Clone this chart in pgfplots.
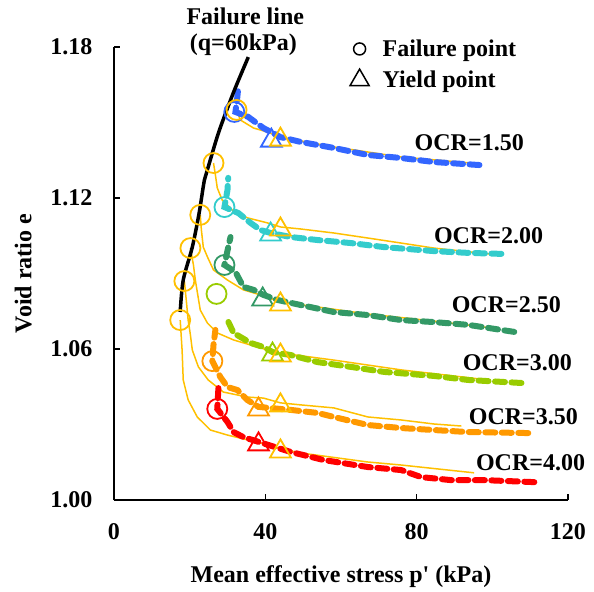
\documentclass[border=0pt]{standalone}
\usepackage{fontspec}
\setmainfont{Liberation Serif}
\usepackage{pgfplots}
\pgfplotsset{compat=1.18}
\definecolor{cB}{RGB}{51,102,255}
\definecolor{cC}{RGB}{51,204,204}
\definecolor{cG}{RGB}{51,153,102}
\definecolor{cL}{RGB}{153,204,0}
\definecolor{cO}{RGB}{255,153,0}
\definecolor{cR}{RGB}{255,0,0}
\definecolor{cY}{RGB}{255,192,0}
\pgfplotsset{myleg/.style={legend image code/.code={\draw[mark repeat=2,mark phase=2,##1] plot coordinates {(0cm,0cm)(0.3cm,0cm)(1.05cm,0cm)}; \path[draw=none,fill=none] (0.3cm,0cm) ++(-9bp,0bp) -- ++(30bp,0bp);}}}
\begin{document}
\begin{tikzpicture}[font=\fontsize{24bp}{28bp}\selectfont\bfseries]
\begin{axis}[
  scale only axis, width=454bp, height=453bp,
  xmin=0, xmax=120, ymin=1.00, ymax=1.18,
  axis lines=left, axis line style={-, line width=1.2bp, black},
  tick align=inside, major tick length=6bp, tick style={line width=1.2bp, black},
  xtick={0,40,80,120}, ytick={1.00,1.06,1.12,1.18},
  yticklabel={\pgfmathprintnumber[fixed,fixed zerofill,precision=2]{\tick}},
  /pgf/number format/assume math mode=true,
  xticklabel style={yshift=-20bp}, yticklabel style={xshift=-18bp},
  xlabel={Mean effective stress p\textquotesingle{} (kPa)},
  ylabel={Void ratio e},
  xlabel style={at={(axis description cs:0.5,-0.17)}, anchor=center},
  ylabel style={at={(axis description cs:-0.2,0.5)}, anchor=center},
  clip=false,
  legend style={at={(axis description cs:0.513,1.025)}, anchor=north west, draw=none, fill=none, row sep=9bp},
  legend cell align=left,
  exp/.style={line width=6bp, dash pattern=on 10bp off 6.5bp, line cap=round, no marks},
  sim/.style={cY, line width=1.5bp, no marks},
  fp/.style={only marks, mark=o, mark size=10bp, mark options={line width=1.8bp}},
  yp/.style={only marks, mark=triangle, mark size=12bp, mark options={line width=1.8bp}},
]
\addlegendimage{only marks, mark=o, mark size=6bp, black, mark options={line width=1.5bp}, myleg}
\addlegendentry{Failure point}
\addlegendimage{only marks, mark=triangle, mark size=11bp, black, mark options={line width=1.5bp}, myleg}
\addlegendentry{Yield point}

% simulation lines (yellow)
\addplot[sim] coordinates {(32.4,1.1550)(33.4,1.151)(36.9,1.1478)(40.6,1.1462)(44.0,1.1442)(58.1,1.1403)(75.9,1.1363)(94.4,1.1339)};
\addplot[sim] coordinates {(26.3,1.1339)(26.8,1.1292)(27.3,1.124)(28.6,1.1192)(31.3,1.1152)(35.3,1.1121)(40.6,1.1101)(44.0,1.1085)(49.3,1.1077)(58.1,1.1061)(67.1,1.1041)(75.9,1.1021)(84.6,1.1001)(101.6,1.0974)};
\addplot[sim] coordinates {(22.8,1.1133)(23.1,1.1073)(23.6,1.1005)(24.7,1.0966)(26.3,1.0914)(30.0,1.0874)(34.2,1.0835)(38.7,1.0815)(44.0,1.0787)(53.8,1.0767)(67.1,1.0739)(84.6,1.0711)(99.7,1.0684)};
\addplot[sim] coordinates {(20.2,1.1001)(21.0,1.0934)(21.5,1.0874)(22.8,1.0755)(24.7,1.0703)(27.3,1.0664)(31.6,1.0636)(36.1,1.0616)(40.6,1.0596)(44.0,1.0584)(58.1,1.0556)(75.9,1.0517)(98.9,1.0477)};
\addplot[sim] coordinates {(18.6,1.0870)(19.1,1.0795)(19.6,1.0715)(20.2,1.0656)(20.7,1.0596)(22.3,1.0529)(24.9,1.0477)(28.9,1.0429)(35.3,1.0409)(39.5,1.0405)(44.0,1.0386)(49.3,1.0378)(58.1,1.0366)(67.1,1.0330)(75.9,1.0318)(84.6,1.0302)(91.8,1.0294)};
\addplot[sim] coordinates {(17.5,1.0715)(18.0,1.0596)(18.3,1.0477)(19.6,1.0398)(22.0,1.0330)(25.5,1.0278)(30.0,1.0258)(38.7,1.0227)(44.0,1.0203)(49.3,1.0187)(67.1,1.0151)(75.9,1.0139)(95.2,1.0108)};

% experimental data
\addplot[exp, cB] coordinates {(96.6,1.1331)(84.6,1.1343)(75.9,1.1359)(67.1,1.1371)(58.1,1.1399)(49.3,1.1423)(44.0,1.1442)(39.5,1.1478)(35.5,1.1522)(32.1,1.1542)(32.6,1.1601)(32.9,1.1649)};
\addplot[exp, cC] coordinates {(102.4,1.0978)(93.6,1.0982)(84.6,1.0989)(71.4,1.1005)(62.6,1.1021)(53.8,1.1033)(46.7,1.1045)(41.4,1.1061)(38.7,1.1073)(36.1,1.1101)(32.9,1.1140)(29.2,1.1164)(30.0,1.1232)(30.2,1.1280)};
\addplot[exp, cG] coordinates {(105.8,1.0668)(93.6,1.0696)(84.6,1.0707)(75.9,1.0715)(67.1,1.0735)(58.1,1.0747)(49.3,1.0775)(43.2,1.0795)(39.5,1.0815)(36.9,1.0835)(34.2,1.0847)(32.1,1.0906)(29.2,1.0934)(30.2,1.1005)(30.8,1.1045)};
\addplot[exp, cL] coordinates {(107.7,1.0465)(93.6,1.0477)(84.6,1.0493)(71.4,1.0509)(62.6,1.0529)(53.8,1.0548)(46.7,1.0576)(41.9,1.0588)(39.5,1.0608)(36.1,1.0624)(31.6,1.0664)(30.0,1.0715)};
\addplot[exp, cO] coordinates {(109.5,1.0266)(93.6,1.0270)(84.6,1.0278)(75.9,1.0286)(67.1,1.0298)(59.2,1.0326)(53.8,1.0346)(46.7,1.0358)(38.2,1.0370)(35.3,1.0397)(32.6,1.0437)(30.0,1.0449)(28.1,1.0489)(26.0,1.0552)(26.3,1.0616)(26.8,1.0676)};
\addplot[exp, cR] coordinates {(111.1,1.0071)(97.9,1.0079)(89.1,1.0079)(81.2,1.0091)(75.9,1.0119)(67.1,1.0131)(55.4,1.0159)(46.7,1.0191)(38.2,1.0231)(34.2,1.0250)(31.6,1.0270)(30.0,1.0310)(27.3,1.0362)(27.6,1.0445)};

% experimental failure and yield points
\addplot[fp, cB] coordinates {(31.8,1.1542)};
\addplot[fp, cC] coordinates {(29.2,1.1164)};
\addplot[fp, cG] coordinates {(29.2,1.0934)};
\addplot[fp, cL] coordinates {(27.1,1.0819)};
\addplot[fp, cO] coordinates {(26.0,1.0552)};
\addplot[fp, cR] coordinates {(27.3,1.0362)};
\addplot[yp, cB] coordinates {(41.6,1.1428)};
\addplot[yp, cC] coordinates {(41.4,1.1055)};
\addplot[yp, cG] coordinates {(39.3,1.0797)};
\addplot[yp, cL] coordinates {(41.9,1.0578)};
\addplot[yp, cO] coordinates {(38.2,1.0360)};
\addplot[yp, cR] coordinates {(38.2,1.0221)};

% simulated failure and yield points
\addplot[fp, cY] coordinates {(32.4,1.1550)(26.3,1.1339)(22.8,1.1133)(20.2,1.1001)(18.6,1.0870)(17.5,1.0715)};
\addplot[yp, cY] coordinates {(44.0,1.1432)(44.0,1.1075)(44.0,1.0777)(44.0,1.0574)(44.0,1.0376)(44.0,1.0193)};

% failure line
\addplot[black, line width=3.5bp, smooth, no marks] coordinates {(17.5,1.0747)(18.3,1.0874)(20.7,1.1005)(22.5,1.1140)(23.9,1.1272)(24.9,1.1323)(27.6,1.1458)(30.8,1.1589)(32.6,1.1657)(35.5,1.1760)};

\node at (axis cs:34.7,1.1923) {Failure line};
\node at (axis cs:34.2,1.1808) {(q=60kPa)};
\node at (axis cs:93.9,1.1419) {OCR=1.50};
\node at (axis cs:99.0,1.1049) {OCR=2.00};
\node at (axis cs:103.7,1.0775) {OCR=2.50};
\node at (axis cs:106.6,1.0545) {OCR=3.00};
\node at (axis cs:108.2,1.0330) {OCR=3.50};
\node at (axis cs:110.1,1.0147) {OCR=4.00};

\path (rel axis cs:-0.2511,-0.1987) rectangle (rel axis cs:1.0573,1.1038);
\end{axis}
\end{tikzpicture}
\end{document}
